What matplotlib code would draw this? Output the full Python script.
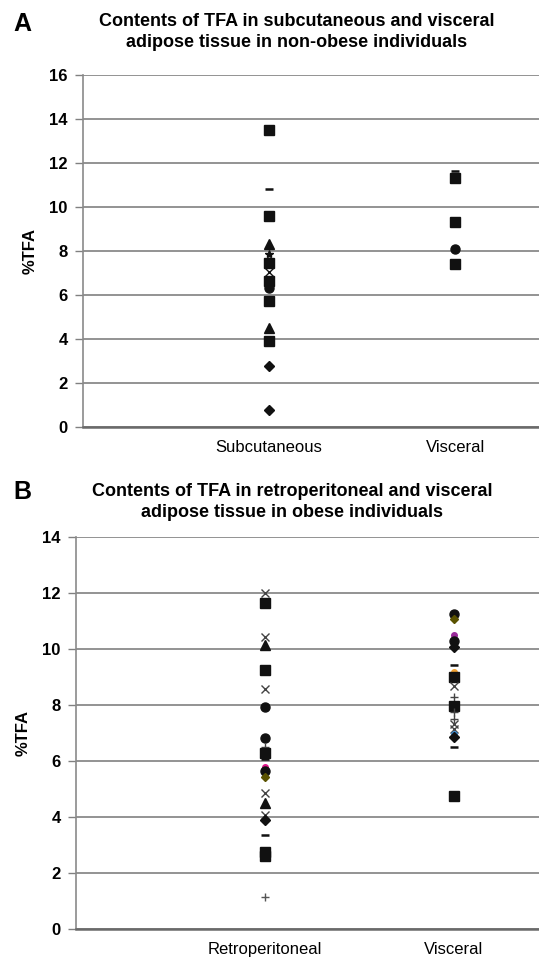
import matplotlib
matplotlib.use("Agg")
import matplotlib.pyplot as plt

plt.rcParams["font.family"] = ["Liberation Sans", "DejaVu Sans"]

# Panel A: non-obese, subcutaneous vs visceral
a_categories = ["Subcutaneous", "Visceral"]
a_sub_values = [13.5, 10.8, 9.6, 8.3, 7.85, 7.45, 7.05, 6.65, 6.3, 5.75, 4.5, 3.9, 2.8, 0.8]
a_sub_markers = ["s", "_", "s", "^", "*", "s", "x", "s", "o", "s", "^", "s", "D", "D"]
a_visc_values = [11.65, 11.3, 9.33, 8.1, 7.4]
a_visc_markers = ["_", "s", "s", "o", "s"]

# Panel B: obese, retroperitoneal vs visceral
b_categories = ["Retroperitoneal", "Visceral"]
b_retro_values = [12.0, 11.65, 10.46, 10.14, 9.28, 8.57, 7.93, 6.82, 6.5, 6.28, 6.1,
                  5.78, 5.64, 5.43, 4.86, 4.5, 4.1, 3.89, 3.36, 2.75, 2.6, 1.14]
b_retro_markers = ["x", "s", "x", "^", "s", "x", "o", "o", "+", "s", "_",
                   "o", "o", "D", "x", "^", "x", "D", "_", "s", "s", "+"]
b_retro_colors = ["#444444", "#111111", "#444444", "#111111", "#111111", "#444444", "#111111",
                  "#111111", "#444444", "#111111", "#111111", "#e0168a", "#111111", "#5a5200",
                  "#444444", "#111111", "#444444", "#111111", "#111111", "#111111", "#111111", "#555555"]
b_visc_values = [11.25, 11.1, 10.5, 10.3, 10.1, 9.46, 9.18, 9.03, 8.68, 8.29, 7.96,
                 7.75, 7.53, 7.35, 7.14, 6.96, 6.86, 6.5, 4.75]
b_visc_markers = ["o", "D", "o", "o", "D", "_", "o", "s", "x", "+", "s",
                  "+", "+", "x", "x", "o", "D", "_", "s"]
b_visc_colors = ["#111111", "#5a5200", "#9a2a9a", "#111111", "#111111", "#111111", "#f0a030",
                 "#111111", "#444444", "#444444", "#111111", "#444444", "#444444", "#444444",
                 "#444444", "#3a8ad0", "#111111", "#111111", "#111111"]

msize = {"s": 7, "D": 5, "^": 6.5, "o": 6.5, "x": 5.5, "+": 6, "_": 6, "*": 6}


def draw_points(ax, xpos, values, markers, colors=None):
    for i, (v, m) in enumerate(zip(values, markers)):
        c = colors[i] if colors else "#111111"
        ms = msize[m]
        # the coloured ones are small dots peeking out behind black marks
        if c not in ("#111111", "#444444", "#555555"):
            ms = 4
        ax.plot([xpos], [v], linestyle="none", marker=m, color=c, markersize=ms,
                markeredgewidth=1.8 if m == "_" else 1.0, zorder=3)


def style_axes(ax, ymax, categories):
    ax.set_ylim(0, ymax)
    ax.set_yticks(range(0, ymax + 1, 2))
    ax.set_xlim(0, 2.45)
    ax.set_xticks([1, 2])
    ax.set_xticklabels(categories, fontsize=12)
    ax.tick_params(axis="x", length=0, pad=9)
    ax.tick_params(axis="y", length=6, color="#808080", width=1, pad=5)
    for lab in ax.get_yticklabels():
        lab.set_fontsize(12)
        lab.set_fontweight("bold")
    ax.yaxis.grid(True, color="#8a8a8a", linewidth=1.3)
    ax.set_axisbelow(True)
    for s in ["top", "right"]:
        ax.spines[s].set_visible(False)
    ax.spines["left"].set_color("#8a8a8a")
    ax.spines["left"].set_linewidth(1.2)
    ax.spines["bottom"].set_color("#6a6a6a")
    ax.spines["bottom"].set_linewidth(1.8)
    ax.set_ylabel("%TFA", fontsize=12, fontweight="bold", labelpad=8)


fig = plt.figure(figsize=(5.39, 9.58), dpi=100)

axA = fig.add_axes([0.154, 0.554, 0.846, 0.368])
draw_points(axA, 1, a_sub_values, a_sub_markers)
draw_points(axA, 2, a_visc_values, a_visc_markers)
style_axes(axA, 16, a_categories)

axB = fig.add_axes([0.141, 0.030, 0.859, 0.409])
draw_points(axB, 1, b_retro_values, b_retro_markers, b_retro_colors)
draw_points(axB, 2, b_visc_values, b_visc_markers, b_visc_colors)
style_axes(axB, 14, b_categories)

fig.text(22 / 539, 1 - 24 / 958, "A", fontsize=18, fontweight="bold", ha="center", va="center")
fig.text(297 / 539, 1 - 32 / 958,
         "Contents of TFA in subcutaneous and visceral\nadipose tissue in non-obese individuals",
         fontsize=13, fontweight="bold", ha="center", va="center", linespacing=1.3)
fig.text(22 / 539, 1 - 492 / 958, "B", fontsize=18, fontweight="bold", ha="center", va="center")
fig.text(292 / 539, 1 - 502 / 958,
         "Contents of TFA in retroperitoneal and visceral\nadipose tissue in obese individuals",
         fontsize=13, fontweight="bold", ha="center", va="center", linespacing=1.3)

fig.savefig("out.png", dpi=100)
